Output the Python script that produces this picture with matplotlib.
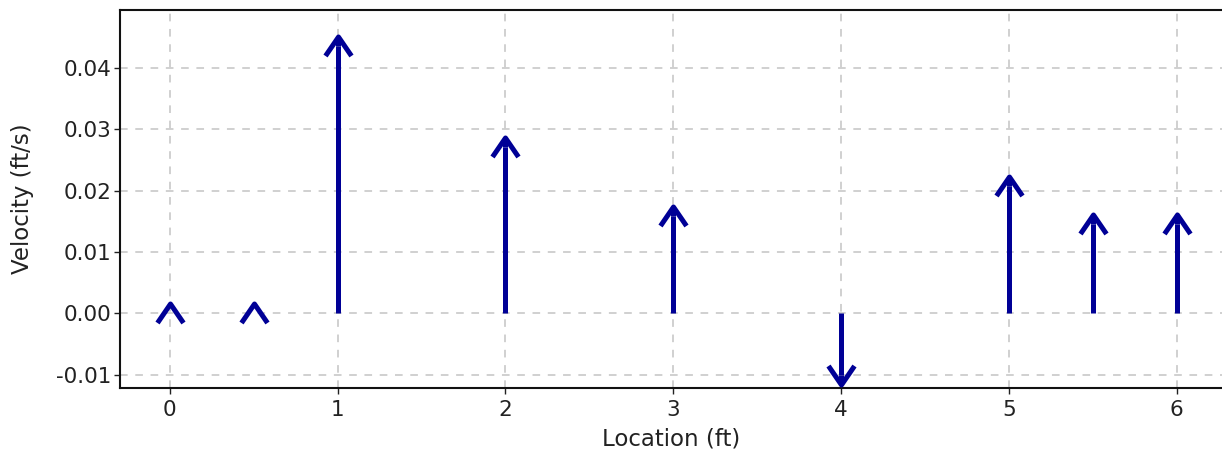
import matplotlib
matplotlib.use('Agg')
import matplotlib.pyplot as plt
from matplotlib.path import Path

# 位置与流速
location = [0, 0.5, 1, 2, 3, 4, 5, 5.5, 6]
velocity = [0.0, 0.0, 0.0436, 0.0271, 0.0158, -0.0100, 0.0207, 0.0145, 0.0145]

x_ticks = [0, 1, 2, 3, 4, 5, 6]
y_ticks = [-0.01, 0.00, 0.01, 0.02, 0.03, 0.04]

arrow_color = '#000096'
text_color = '#222222'

plt.rcParams['font.family'] = ['DejaVu Sans']

# 箭头头部（开口 V 形），中心在矢量端点
head_up = Path([(-13, -9.5), (0, 9.5), (13, -9.5), (0, 0), (0, 9.5)],
               [Path.MOVETO, Path.LINETO, Path.LINETO, Path.MOVETO, Path.LINETO])
head_down = Path([(-13, 9.5), (0, -9.5), (13, 9.5), (0, 0), (0, -9.5)],
                 [Path.MOVETO, Path.LINETO, Path.LINETO, Path.MOVETO, Path.LINETO])
head_zero = Path([(-13, -9.5), (0, 9.5), (13, -9.5)],
                 [Path.MOVETO, Path.LINETO, Path.LINETO])

fig = plt.figure(figsize=(12.22, 4.62), dpi=100)
ax = fig.add_axes([120 / 1222, 1 - 388 / 462, 1 - 120 / 1222, 378 / 462])

for x, v in zip(location, velocity):
    if v > 0:
        mk = head_up
    elif v < 0:
        mk = head_down
    else:
        mk = head_zero
    if v != 0:
        ax.plot([x, x], [0, v], color=arrow_color, lw=3.6, solid_capstyle='butt', zorder=3)
    ax.plot([x], [v], linestyle='none', marker=mk, ms=18.7, mew=3.6,
            mfc='none', mec=arrow_color, zorder=4)

ax.set_xlim(-0.297, 6.27)
ax.set_ylim(-0.0122, 0.0495)
ax.set_xticks(x_ticks)
ax.set_yticks(y_ticks)
ax.set_yticklabels(['%.2f' % t for t in y_ticks])

ax.grid(True, color='#c4c4c4', linestyle=(0, (5, 5)), linewidth=1.1)
ax.set_axisbelow(True)
ax.spines['right'].set_visible(False)
for s in ['left', 'top', 'bottom']:
    ax.spines[s].set_linewidth(1.5)
    ax.spines[s].set_color('#111111')

ax.tick_params(axis='both', length=4, width=1, colors=text_color, labelsize=15.5)
ax.tick_params(axis='x', pad=5)
ax.tick_params(axis='y', pad=2)
ax.set_xlabel('Location (ft)', color=text_color, fontsize=16.5, labelpad=5)
ax.set_ylabel('Velocity (ft/s)', color=text_color, fontsize=16.5, labelpad=16)

fig.savefig('out.png', dpi=100)
